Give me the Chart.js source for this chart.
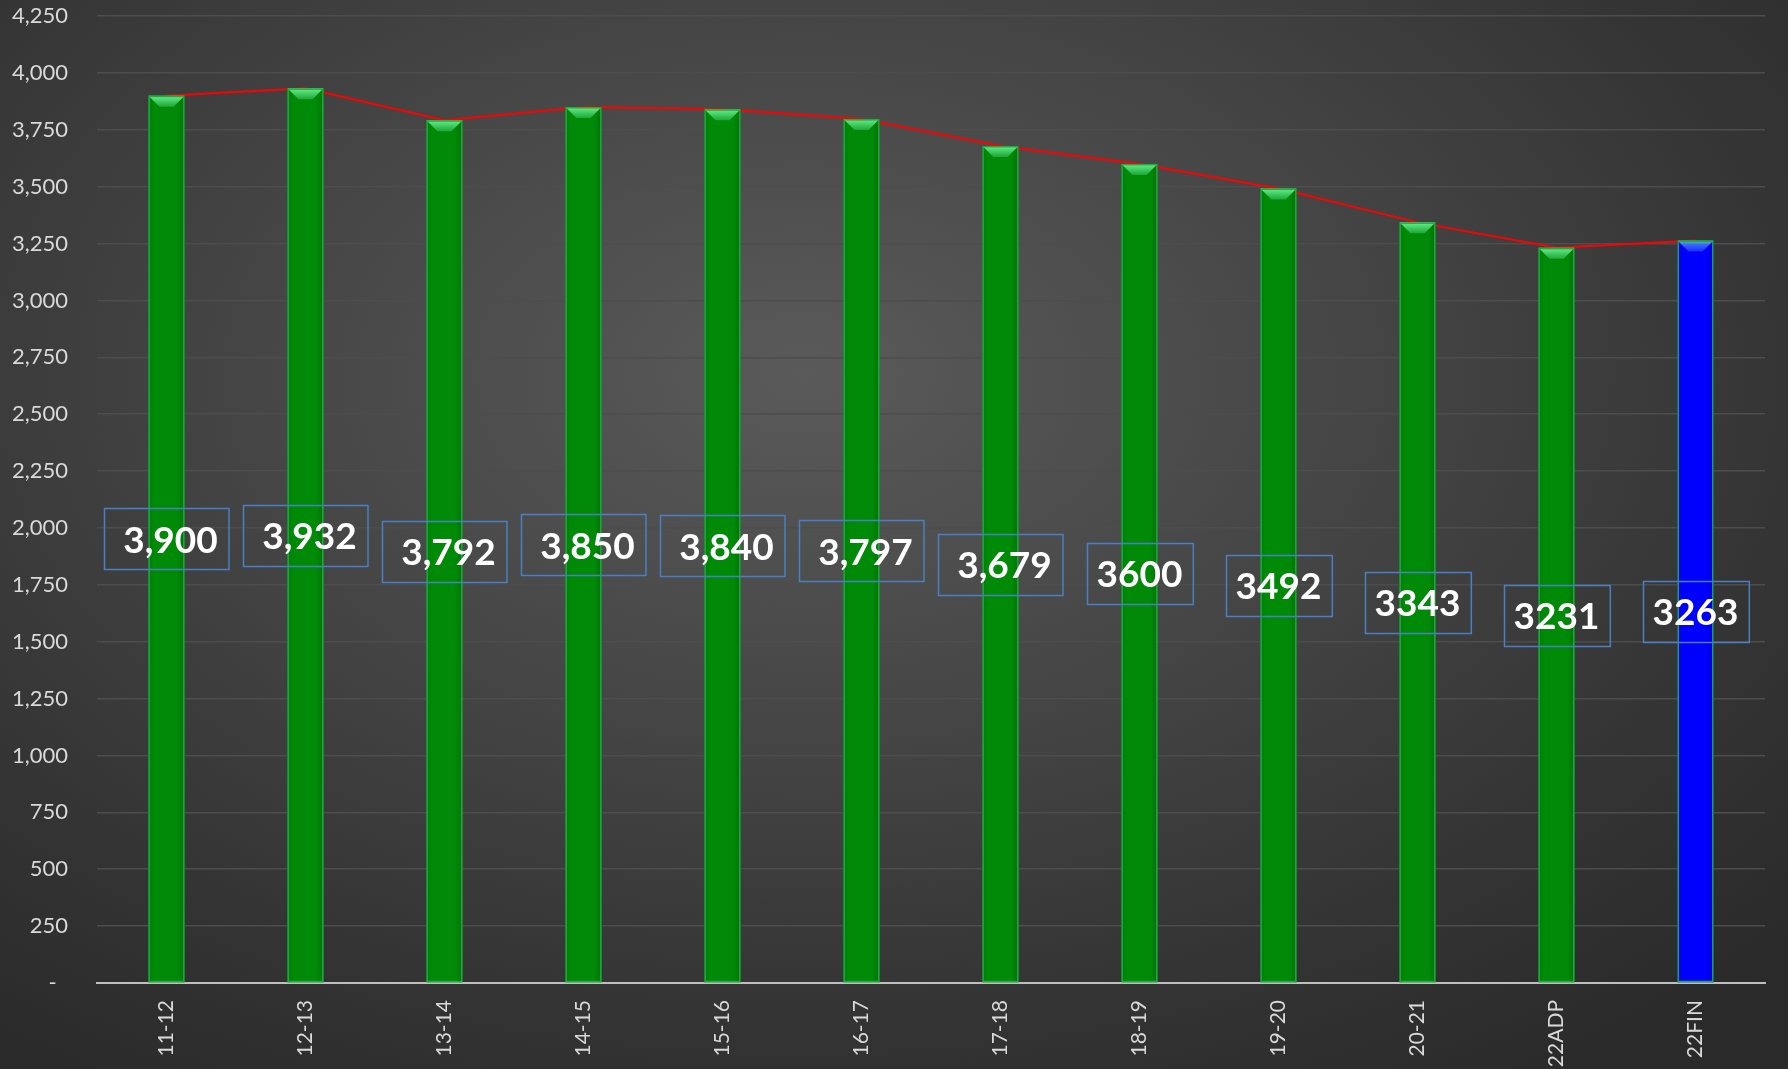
<!DOCTYPE html>
<html>
<head>
<meta charset="utf-8">
<script src="https://cdn.jsdelivr.net/npm/chart.js@4.4.0/dist/chart.umd.min.js"></script>
<style>
  html, body { margin:0; padding:0; width:1788px; height:1069px; overflow:hidden;
    background: radial-gradient(ellipse 75% 80% at 45% 35%, #5a5a5a 0%, #464646 40%, #343434 75%, #2a2a2a 100%); }
  #wrap { width:1788px; height:1069px; position:relative; }
</style>
</head>
<body>
<div id="wrap"><canvas id="c" width="1788" height="1069"></canvas></div>
<script>
const categories = ['11-12','12-13','13-14','14-15','15-16','16-17','17-18','18-19','19-20','20-21','22ADP','22FIN'];
const values = [3900, 3932, 3792, 3850, 3840, 3797, 3679, 3600, 3492, 3343, 3231, 3263];
const valueLabels = ['3,900','3,932','3,792','3,850','3,840','3,797','3,679','3600','3492','3343','3231','3263'];
const yTickValues = [0,250,500,750,1000,1250,1500,1750,2000,2250,2500,2750,3000,3250,3500,3750,4000,4250];
const yTickLabels = ['-  ','250','500','750','1,000','1,250','1,500','1,750','2,000','2,250','2,500','2,750','3,000','3,250','3,500','3,750','4,000','4,250'];

const barFill = values.map((v, i) => i === values.length - 1 ? '#0000ff' : '#008a08');

const bevelPlugin = {
  id: 'bevel',
  afterDatasetsDraw(chart) {
    const ctx = chart.ctx;
    const meta = chart.getDatasetMeta(0);
    meta.data.forEach((bar, i) => {
      const w = bar.width, l = bar.x - w/2, r = bar.x + w/2, t = bar.y, b = bar.base;
      const blue = i === values.length - 1;
      ctx.save();
      const g = ctx.createLinearGradient(l, 0, r, 0);
      g.addColorStop(0, 'rgba(0,0,0,0.10)');
      g.addColorStop(0.15, 'rgba(0,0,0,0)');
      g.addColorStop(0.8, 'rgba(0,0,0,0)');
      g.addColorStop(1, 'rgba(0,0,0,0.18)');
      ctx.fillStyle = g;
      ctx.fillRect(l, t, w, b - t);
      const bh = 11;
      const gt = ctx.createLinearGradient(0, t, 0, t + bh);
      if (blue) {
        gt.addColorStop(0, '#4de06a'); gt.addColorStop(0.35, '#3a6bff'); gt.addColorStop(1, '#1a2cff');
      } else {
        gt.addColorStop(0, '#66f088'); gt.addColorStop(1, '#1ea83a');
      }
      ctx.fillStyle = gt;
      ctx.beginPath();
      ctx.moveTo(l, t); ctx.lineTo(r, t); ctx.lineTo(r - bh, t + bh); ctx.lineTo(l + bh, t + bh); ctx.closePath();
      ctx.fill();
      ctx.strokeStyle = '#22a845';
      ctx.lineWidth = 1.5;
      ctx.strokeRect(l + 0.75, t + 0.75, w - 1.5, b - t - 1.5);
      ctx.restore();
    });
  }
};

const labelPlugin = {
  id: 'boxLabels',
  afterDraw(chart) {
    const ctx = chart.ctx;
    const meta = chart.getDatasetMeta(0);
    ctx.save();
    ctx.font = 'bold 37px Lato, "Open Sans", sans-serif';
    ctx.textBaseline = 'middle';
    ctx.textAlign = 'center';
    meta.data.forEach((bar, i) => {
      const txt = valueLabels[i];
      const cy = (bar.y + bar.base) / 2;
      const tw = ctx.measureText(txt).width;
      const comma = txt.indexOf(',') >= 0;
      const bw = tw + (comma ? 30 : 20);
      const bhh = 61;
      ctx.strokeStyle = '#4a7fc1';
      ctx.lineWidth = 1.5;
      ctx.strokeRect(Math.round(bar.x - bw/2) + 0.5, Math.round(cy - bhh/2) + 0.5, bw, bhh);
      ctx.fillStyle = '#ffffff';
      ctx.fillText(txt, bar.x + (comma ? 4 : 0), cy + 2);
    });
    ctx.restore();
  }
};

new Chart(document.getElementById('c'), {
  type: 'bar',
  data: {
    labels: categories,
    datasets: [
      { type: 'bar', data: values, backgroundColor: barFill, borderWidth: 0, categoryPercentage: 1, barPercentage: 0.26, order: 1 },
      { type: 'line', data: values, borderColor: '#ff0000', borderWidth: 2, pointRadius: 0, tension: 0, fill: false, order: 2 }
    ]
  },
  options: {
    responsive: false,
    animation: false,
    events: [],
    layout: { padding: { left: 0, right: 23, top: 16, bottom: 0 } },
    plugins: { legend: { display: false }, tooltip: { enabled: false } },
    scales: {
      x: {
        grid: { display: false, drawTicks: false },
        border: { display: true, color: '#bfbfbf', width: 2 },
        ticks: {
          color: '#d9d9d9', font: { family: 'Lato, "Open Sans", sans-serif', size: 21 },
          minRotation: 90, maxRotation: 90, padding: 17, autoSkip: false
        },
        afterFit(axis) { axis.height = 86; }
      },
      y: {
        min: 0, max: 4250,
        afterBuildTicks(axis) { axis.ticks = yTickValues.map(v => ({ value: v })); },
        grid: { color: '#4d4d4d', lineWidth: 1.5, drawTicks: false },
        border: { display: false },
        ticks: {
          color: '#d9d9d9', font: { family: 'Lato, "Open Sans", sans-serif', size: 22 },
          padding: 29,
          callback(v) { const k = yTickValues.indexOf(v); return k >= 0 ? yTickLabels[k] : ''; }
        },
        afterFit(axis) { axis.width = 97; axis.paddingTop = 12; axis.paddingBottom = 12; }
      }
    }
  },
  plugins: [bevelPlugin, labelPlugin]
});
</script>
</body>
</html>
